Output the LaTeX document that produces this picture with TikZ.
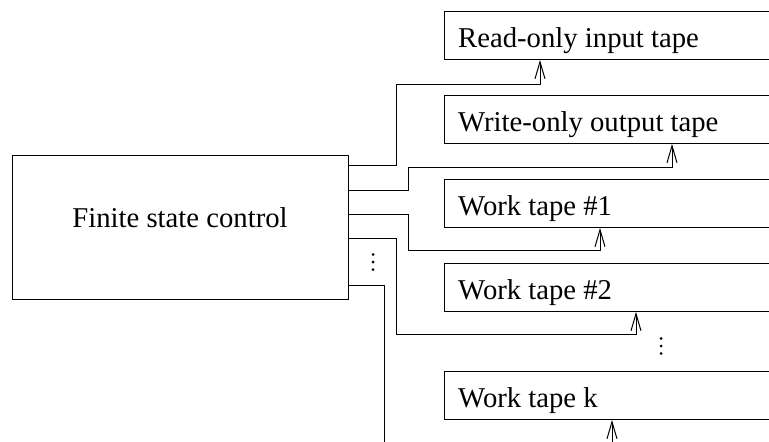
\documentclass[tikz,border=0pt]{standalone}
\usepackage{fontspec}
\setmainfont{Liberation Serif}
\usetikzlibrary{arrows.meta}

\tikzset{
  every node/.style={font=\fontsize{28.7}{34}\selectfont},
  ctrlbox/.style={draw, line width=1pt, minimum width=336pt, minimum height=144pt, inner sep=0pt},
  tapebox/.style={draw, line width=1pt, minimum width=340pt, minimum height=48pt, inner sep=0pt, anchor=north west},
  tapelabel/.style={anchor=base west, inner sep=0pt},
  wire/.style={line width=1pt},
  headarrow/.style={line width=1pt, -{Straight Barb[length=17pt,width=10pt,line width=1pt]}},
  dotmark/.style={fill=black}
}

\begin{document}
\begin{tikzpicture}[x=1pt,y=-1pt]
  \useasboundingbox (0,0) rectangle (769,442);

  % finite state control
  \node[ctrlbox] (fsc) at (180,227) {};
  \node[anchor=base, inner sep=0pt] (fsctext) at (fsc.center) {Finite state control};

  % tapes (running off to the right)
  \node[tapebox] (t1) at (444,11)  {};
  \node[tapebox] (t2) at (444,95)  {};
  \node[tapebox] (t3) at (444,179) {};
  \node[tapebox] (t4) at (444,263) {};
  \node[tapebox] (t5) at (444,371) {};

  \node[tapelabel] (l1) at ([xshift=14pt,yshift=-36pt]t1.north west) {Read-only input tape};
  \node[tapelabel] (l2) at ([xshift=14pt,yshift=-36pt]t2.north west) {Write-only output tape};
  \node[tapelabel] (l3) at ([xshift=14pt,yshift=-36pt]t3.north west) {Work tape \#1};
  \node[tapelabel] (l4) at ([xshift=14pt,yshift=-36pt]t4.north west) {Work tape \#2};
  \node[tapelabel] (l5) at ([xshift=14pt,yshift=-36pt]t5.north west) {Work tape k};

  % vertical ellipses
  \coordinate (dots1) at (373,262);
  \coordinate (dots2) at (661,346);
  \foreach \d in {dots1,dots2}{
    \foreach \dy in {-7.5,0,7.5}
      \fill[dotmark] ([yshift=\dy pt]\d) circle (1.5pt);
  }

  % head connections
  \draw[headarrow] ([yshift=-11pt]fsc.north east) -| (396,84) -| ([xshift=96pt]t1.south west);
  \draw[headarrow] ([yshift=-36pt]fsc.north east) -| (408,167) -| ([xshift=228pt]t2.south west);
  \draw[headarrow] ([yshift=-60pt]fsc.north east) -| (408,250) -| ([xshift=156pt]t3.south west);
  \draw[headarrow] ([yshift=-84pt]fsc.north east) -| (396,334) -| ([xshift=192pt]t4.south west);

  \coordinate (kwire) at (384,446);
  \coordinate (khead) at (612,446);
  \draw[wire] ([yshift=-131pt]fsc.north east) -| (kwire);
  \draw[headarrow] (khead) -- ([xshift=168pt]t5.south west);
\end{tikzpicture}
\end{document}
